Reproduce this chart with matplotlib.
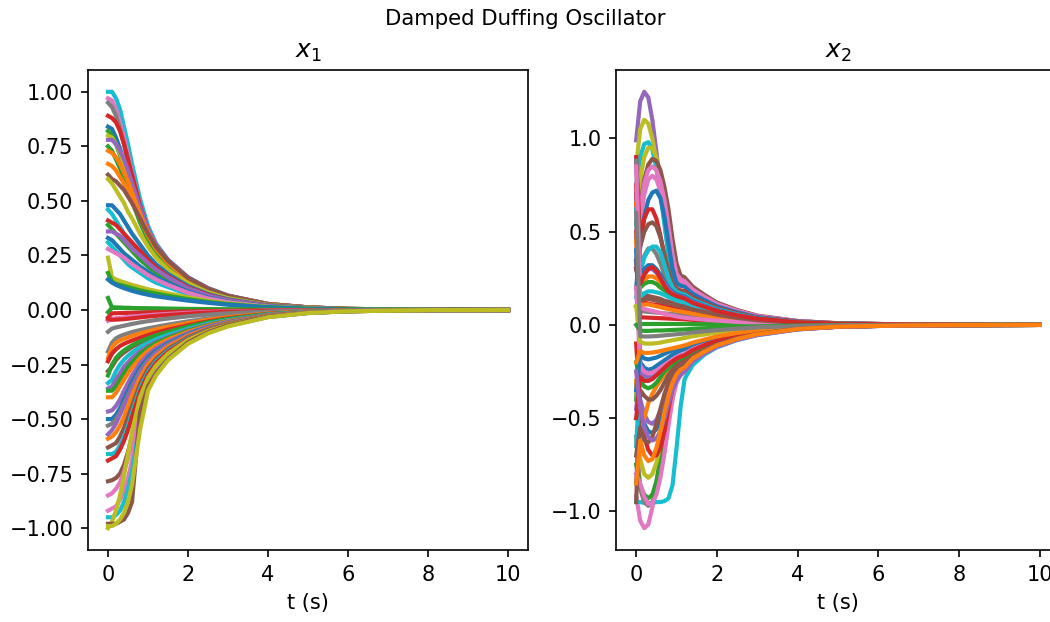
import matplotlib
matplotlib.use("Agg")
import matplotlib.pyplot as plt

# time grids (s)
t_x1 = [0, 0.1, 0.2, 0.3, 0.4, 0.5, 0.6, 0.8, 1.0, 1.2, 1.5, 2.0, 2.5, 3.0, 4.0, 5.0, 6.0, 8.0, 10.0]
t_x2 = [0, 0.1, 0.2, 0.3, 0.4, 0.5, 0.6, 0.7, 0.8, 0.9, 1.0, 1.1, 1.2, 1.4, 1.7, 2.0, 2.5, 3.0, 4.0, 5.0, 6.5, 8.0, 10.0]

# x1 trajectories
x1_curves = [
    [1.00,1.00,0.97,0.92,0.84,0.76,0.67,0.51,0.385,0.305,0.23,0.15,0.10,0.066,0.028,0.012,0.005,0.001,0.0],
    [0.97,0.96,0.92,0.86,0.79,0.71,0.63,0.48,0.37,0.295,0.225,0.146,0.097,0.064,0.027,0.012,0.005,0.001,0.0],
    [0.95,0.93,0.89,0.83,0.76,0.68,0.61,0.47,0.36,0.29,0.22,0.143,0.095,0.063,0.027,0.011,0.005,0.001,0.0],
    [0.89,0.88,0.86,0.82,0.76,0.69,0.62,0.48,0.37,0.295,0.225,0.146,0.097,0.064,0.027,0.012,0.005,0.001,0.0],
    [0.84,0.83,0.79,0.74,0.68,0.61,0.55,0.43,0.34,0.275,0.21,0.137,0.091,0.06,0.026,0.011,0.0045,0.001,0.0],
    [0.82,0.80,0.76,0.71,0.65,0.59,0.53,0.42,0.33,0.265,0.205,0.134,0.089,0.059,0.025,0.011,0.0045,0.001,0.0],
    [0.80,0.79,0.76,0.72,0.67,0.61,0.55,0.44,0.35,0.28,0.215,0.14,0.093,0.062,0.026,0.011,0.0045,0.001,0.0],
    [0.78,0.78,0.76,0.73,0.69,0.64,0.58,0.47,0.37,0.30,0.23,0.15,0.10,0.066,0.028,0.012,0.005,0.001,0.0],
    [0.75,0.73,0.69,0.65,0.60,0.55,0.50,0.40,0.32,0.26,0.20,0.13,0.087,0.058,0.025,0.01,0.004,0.001,0.0],
    [0.73,0.72,0.70,0.67,0.63,0.59,0.54,0.44,0.355,0.29,0.22,0.143,0.095,0.063,0.027,0.011,0.005,0.001,0.0],
    [0.67,0.66,0.64,0.61,0.58,0.54,0.50,0.42,0.34,0.28,0.215,0.14,0.093,0.062,0.026,0.011,0.0045,0.001,0.0],
    [0.62,0.60,0.59,0.57,0.55,0.52,0.49,0.42,0.35,0.29,0.225,0.147,0.098,0.065,0.027,0.012,0.005,0.001,0.0],
    [0.60,0.58,0.55,0.52,0.49,0.45,0.42,0.35,0.29,0.24,0.185,0.122,0.081,0.054,0.023,0.01,0.004,0.001,0.0],
    [0.48,0.48,0.46,0.44,0.41,0.38,0.35,0.30,0.25,0.21,0.165,0.11,0.073,0.049,0.021,0.009,0.004,0.001,0.0],
    [0.46,0.44,0.41,0.38,0.35,0.32,0.29,0.24,0.20,0.17,0.135,0.09,0.06,0.04,0.017,0.007,0.003,0.001,0.0],
    [0.41,0.40,0.39,0.37,0.35,0.33,0.31,0.27,0.23,0.195,0.155,0.104,0.07,0.046,0.02,0.008,0.0035,0.001,0.0],
    [0.39,0.37,0.35,0.33,0.31,0.29,0.27,0.23,0.20,0.17,0.14,0.094,0.063,0.042,0.018,0.008,0.003,0.001,0.0],
    [0.36,0.36,0.35,0.34,0.32,0.30,0.28,0.25,0.215,0.185,0.15,0.10,0.067,0.045,0.019,0.008,0.0035,0.001,0.0],
    [0.33,0.32,0.30,0.28,0.26,0.245,0.23,0.20,0.175,0.15,0.125,0.085,0.057,0.038,0.016,0.007,0.003,0.001,0.0],
    [0.31,0.29,0.27,0.25,0.23,0.21,0.195,0.17,0.145,0.125,0.105,0.072,0.049,0.033,0.014,0.006,0.0025,0.0005,0.0],
    [0.28,0.27,0.26,0.25,0.24,0.225,0.21,0.185,0.16,0.14,0.115,0.079,0.053,0.036,0.015,0.0065,0.0027,0.0005,0.0],
    [0.24,0.15,0.14,0.133,0.127,0.121,0.115,0.105,0.095,0.087,0.076,0.058,0.042,0.03,0.014,0.006,0.003,0.0005,0.0],
    [0.17,0.13,0.12,0.115,0.11,0.105,0.10,0.09,0.082,0.075,0.065,0.05,0.037,0.027,0.013,0.006,0.003,0.0005,0.0],
    [0.14,0.125,0.115,0.107,0.10,0.094,0.088,0.078,0.07,0.063,0.055,0.043,0.033,0.024,0.012,0.005,0.002,0.0005,0.0],
    [0.055,0.012,0.011,0.011,0.010,0.010,0.009,0.008,0.007,0.007,0.006,0.005,0.004,0.003,0.0015,0.0007,0.0003,0.0,0.0],
    [-0.01,0.01,0.01,0.01,0.009,0.009,0.009,0.008,0.007,0.006,0.005,0.004,0.003,0.002,0.001,0.0005,0.0002,0.0,0.0],
    [-0.035,-0.015,-0.015,-0.014,-0.014,-0.013,-0.013,-0.012,-0.011,-0.01,-0.009,-0.007,-0.005,-0.004,-0.002,-0.001,-0.0004,0.0,0.0],
    [-0.05,-0.04,-0.038,-0.036,-0.034,-0.032,-0.03,-0.027,-0.024,-0.021,-0.018,-0.013,-0.009,-0.007,-0.003,-0.0013,-0.0005,0.0,0.0],
    [-0.04,-0.045,-0.044,-0.043,-0.042,-0.04,-0.038,-0.034,-0.03,-0.027,-0.023,-0.017,-0.012,-0.009,-0.004,-0.0017,-0.0007,0.0,0.0],
    [-0.10,-0.085,-0.08,-0.076,-0.072,-0.068,-0.064,-0.057,-0.051,-0.046,-0.039,-0.029,-0.021,-0.015,-0.007,-0.003,-0.0013,-0.0002,0.0],
    [-0.19,-0.15,-0.13,-0.12,-0.113,-0.107,-0.101,-0.092,-0.084,-0.077,-0.067,-0.052,-0.039,-0.029,-0.014,-0.006,-0.003,-0.0005,0.0],
    [-0.22,-0.17,-0.15,-0.14,-0.132,-0.125,-0.119,-0.108,-0.098,-0.089,-0.077,-0.06,-0.045,-0.033,-0.016,-0.007,-0.003,-0.0005,0.0],
    [-0.235,-0.20,-0.18,-0.165,-0.155,-0.147,-0.14,-0.127,-0.115,-0.104,-0.09,-0.07,-0.052,-0.038,-0.018,-0.008,-0.0035,-0.0005,0.0],
    [-0.28,-0.26,-0.23,-0.21,-0.195,-0.182,-0.17,-0.151,-0.135,-0.121,-0.104,-0.079,-0.058,-0.043,-0.02,-0.009,-0.004,-0.0005,0.0],
    [-0.30,-0.25,-0.22,-0.20,-0.185,-0.173,-0.162,-0.144,-0.129,-0.116,-0.10,-0.076,-0.056,-0.041,-0.019,-0.0085,-0.0035,-0.0005,0.0],
    [-0.335,-0.32,-0.28,-0.25,-0.228,-0.21,-0.195,-0.17,-0.151,-0.134,-0.114,-0.086,-0.063,-0.046,-0.021,-0.009,-0.004,-0.0005,0.0],
    [-0.36,-0.35,-0.32,-0.29,-0.26,-0.24,-0.22,-0.19,-0.166,-0.147,-0.124,-0.092,-0.067,-0.049,-0.022,-0.0095,-0.004,-0.0005,0.0],
    [-0.37,-0.37,-0.35,-0.32,-0.29,-0.26,-0.24,-0.20,-0.173,-0.152,-0.128,-0.095,-0.069,-0.05,-0.023,-0.01,-0.004,-0.0005,0.0],
    [-0.40,-0.40,-0.38,-0.35,-0.32,-0.29,-0.265,-0.22,-0.187,-0.162,-0.135,-0.10,-0.072,-0.052,-0.024,-0.01,-0.004,-0.0005,0.0],
    [-0.465,-0.46,-0.44,-0.41,-0.37,-0.335,-0.30,-0.245,-0.205,-0.176,-0.146,-0.106,-0.076,-0.055,-0.025,-0.011,-0.0045,-0.0005,0.0],
    [-0.50,-0.50,-0.48,-0.45,-0.41,-0.37,-0.33,-0.265,-0.22,-0.187,-0.153,-0.11,-0.079,-0.057,-0.026,-0.011,-0.0045,-0.0005,0.0],
    [-0.53,-0.52,-0.50,-0.47,-0.43,-0.39,-0.35,-0.28,-0.23,-0.195,-0.158,-0.113,-0.081,-0.058,-0.026,-0.011,-0.0045,-0.0005,0.0],
    [-0.57,-0.55,-0.52,-0.48,-0.44,-0.40,-0.36,-0.29,-0.238,-0.20,-0.162,-0.116,-0.083,-0.06,-0.027,-0.0115,-0.005,-0.0005,0.0],
    [-0.59,-0.58,-0.56,-0.53,-0.49,-0.44,-0.39,-0.31,-0.25,-0.21,-0.168,-0.119,-0.085,-0.061,-0.027,-0.012,-0.005,-0.0005,0.0],
    [-0.63,-0.62,-0.61,-0.58,-0.54,-0.49,-0.44,-0.34,-0.27,-0.225,-0.178,-0.125,-0.088,-0.063,-0.028,-0.012,-0.005,-0.0005,0.0],
    [-0.66,-0.66,-0.65,-0.62,-0.58,-0.53,-0.47,-0.36,-0.285,-0.235,-0.186,-0.13,-0.091,-0.065,-0.029,-0.0125,-0.005,-0.0005,0.0],
    [-0.69,-0.68,-0.67,-0.64,-0.60,-0.55,-0.49,-0.375,-0.295,-0.243,-0.192,-0.133,-0.093,-0.066,-0.029,-0.0125,-0.005,-0.0005,0.0],
    [-0.785,-0.78,-0.77,-0.75,-0.71,-0.65,-0.58,-0.43,-0.325,-0.265,-0.205,-0.14,-0.098,-0.069,-0.03,-0.013,-0.0055,-0.0005,0.0],
    [-0.85,-0.84,-0.82,-0.79,-0.74,-0.68,-0.61,-0.45,-0.335,-0.27,-0.21,-0.143,-0.10,-0.07,-0.031,-0.013,-0.0055,-0.0005,0.0],
    [-0.92,-0.91,-0.90,-0.87,-0.83,-0.77,-0.69,-0.49,-0.35,-0.28,-0.215,-0.146,-0.102,-0.071,-0.031,-0.013,-0.0055,-0.0005,0.0],
    [-0.95,-0.95,-0.94,-0.92,-0.88,-0.82,-0.74,-0.52,-0.36,-0.29,-0.222,-0.15,-0.104,-0.073,-0.032,-0.014,-0.0055,-0.0005,0.0],
    [-1.00,-0.97,-0.92,-0.85,-0.76,-0.66,-0.56,-0.40,-0.31,-0.255,-0.20,-0.137,-0.096,-0.068,-0.03,-0.013,-0.0055,-0.0005,0.0],
    [-0.98,-0.98,-0.98,-0.97,-0.96,-0.93,-0.88,-0.47,-0.35,-0.29,-0.225,-0.148,-0.102,-0.07,-0.03,-0.013,-0.0055,-0.0005,0.0],
    [-0.99,-0.99,-0.98,-0.96,-0.93,-0.88,-0.80,-0.55,-0.37,-0.30,-0.23,-0.155,-0.107,-0.075,-0.033,-0.014,-0.006,-0.0005,0.0],
]
x1_colors = ["C9","C6","C7","C3","C0","C2","C8","C4","C2","C1","C1","C5","C8","C0","C9","C3","C2","C4","C0","C9",
             "C6","C8","C2","C0","C2","C2","C3","C6","C3","C7","C7","C1","C3","C5","C2","C9","C4","C2","C1","C4",
             "C0","C7","C4","C1","C5","C9","C3","C5","C6","C6","C9","C8","C5","C8"]

# x2 trajectories
x2_curves = [
    [0.99,1.20,1.25,1.22,1.10,0.93,0.74,0.55,0.38,0.27,0.235,0.22,0.215,0.175,0.138,0.105,0.07,0.044,0.019,0.008,0.0028,0.001,0.0],
    [0.85,1.05,1.10,1.08,1.00,0.88,0.74,0.58,0.43,0.31,0.245,0.23,0.225,0.183,0.144,0.109,0.073,0.046,0.02,0.0085,0.003,0.001,0.0],
    [0.75,0.90,0.97,0.98,0.94,0.84,0.70,0.54,0.38,0.26,0.225,0.215,0.21,0.172,0.136,0.104,0.069,0.044,0.019,0.008,0.0028,0.001,0.0],
    [0.55,0.78,0.90,0.95,0.95,0.90,0.80,0.65,0.48,0.33,0.25,0.235,0.23,0.186,0.147,0.111,0.074,0.046,0.02,0.0085,0.003,0.001,0.0],
    [0.45,0.64,0.78,0.86,0.89,0.88,0.83,0.74,0.62,0.46,0.33,0.265,0.255,0.205,0.16,0.12,0.08,0.05,0.021,0.009,0.003,0.001,0.0],
    [0.40,0.62,0.76,0.83,0.85,0.83,0.77,0.67,0.53,0.38,0.275,0.245,0.235,0.19,0.15,0.113,0.075,0.047,0.02,0.0085,0.003,0.001,0.0],
    [0.30,0.55,0.70,0.78,0.80,0.78,0.72,0.62,0.48,0.34,0.255,0.235,0.225,0.183,0.144,0.109,0.073,0.046,0.02,0.0085,0.003,0.001,0.0],
    [0.20,0.42,0.58,0.67,0.71,0.72,0.68,0.58,0.44,0.30,0.225,0.21,0.205,0.167,0.132,0.1,0.067,0.042,0.018,0.008,0.0027,0.001,0.0],
    [0.90,0.45,0.57,0.62,0.62,0.57,0.48,0.37,0.27,0.215,0.195,0.185,0.18,0.148,0.118,0.091,0.061,0.039,0.017,0.0072,0.0025,0.001,0.0],
    [0.35,0.42,0.50,0.54,0.55,0.53,0.47,0.38,0.29,0.225,0.195,0.18,0.175,0.144,0.115,0.089,0.06,0.038,0.016,0.007,0.0024,0.001,0.0],
    [0.88,0.30,0.37,0.41,0.41,0.38,0.33,0.27,0.22,0.19,0.172,0.165,0.16,0.133,0.107,0.083,0.056,0.036,0.015,0.0065,0.0022,0.0008,0.0],
    [0.15,0.28,0.36,0.40,0.42,0.42,0.39,0.32,0.25,0.20,0.178,0.168,0.162,0.135,0.108,0.084,0.057,0.036,0.015,0.0065,0.0022,0.0008,0.0],
    [0.55,0.25,0.30,0.32,0.32,0.30,0.27,0.23,0.20,0.178,0.165,0.158,0.152,0.127,0.102,0.08,0.054,0.035,0.015,0.0063,0.0021,0.0008,0.0],
    [0.70,0.22,0.27,0.30,0.30,0.28,0.25,0.22,0.19,0.17,0.158,0.15,0.145,0.121,0.098,0.076,0.052,0.033,0.014,0.006,0.002,0.0007,0.0],
    [0.65,0.20,0.24,0.26,0.26,0.25,0.23,0.20,0.18,0.16,0.148,0.138,0.13,0.11,0.09,0.07,0.048,0.031,0.013,0.0058,0.002,0.0007,0.0],
    [0.30,0.20,0.22,0.23,0.23,0.22,0.20,0.185,0.17,0.155,0.143,0.135,0.128,0.108,0.088,0.069,0.047,0.03,0.013,0.0057,0.002,0.0007,0.0],
    [0.33,0.17,0.16,0.155,0.15,0.145,0.14,0.13,0.125,0.118,0.11,0.105,0.10,0.086,0.071,0.056,0.039,0.025,0.011,0.005,0.0017,0.0006,0.0],
    [0.50,0.12,0.12,0.115,0.11,0.108,0.105,0.10,0.095,0.09,0.085,0.08,0.076,0.066,0.055,0.044,0.031,0.02,0.009,0.004,0.0014,0.0005,0.0],
    [0.62,0.15,0.17,0.18,0.18,0.175,0.17,0.16,0.15,0.14,0.132,0.125,0.12,0.102,0.084,0.066,0.045,0.029,0.0125,0.0055,0.0019,0.0007,0.0],
    [0.20,0.075,0.072,0.07,0.068,0.066,0.064,0.062,0.06,0.058,0.056,0.054,0.052,0.046,0.039,0.032,0.023,0.015,0.007,0.003,0.001,0.0004,0.0],
    [0.75,0.04,0.04,0.039,0.038,0.037,0.036,0.035,0.034,0.033,0.032,0.031,0.03,0.027,0.023,0.019,0.014,0.0095,0.0045,0.002,0.0007,0.0003,0.0],
    [-0.40,0.005,0.005,0.005,0.005,0.005,0.005,0.005,0.005,0.005,0.005,0.005,0.005,0.0045,0.004,0.0035,0.0025,0.0018,0.0009,0.0004,0.0001,0.0,0.0],
    [0.45,0.10,0.11,0.11,0.105,0.10,0.095,0.09,0.085,0.08,0.076,0.072,0.068,0.06,0.05,0.04,0.028,0.019,0.0085,0.004,0.0013,0.0005,0.0],
    [0.85,0.09,0.085,0.08,0.075,0.07,0.065,0.06,0.055,0.05,0.046,0.042,0.039,0.034,0.028,0.023,0.016,0.011,0.005,0.0023,0.0008,0.0003,0.0],
    [0.10,0.13,0.14,0.14,0.135,0.13,0.125,0.12,0.115,0.11,0.104,0.10,0.096,0.083,0.069,0.055,0.038,0.025,0.011,0.005,0.0017,0.0006,0.0],
    [0.30,0.22,0.27,0.30,0.31,0.29,0.25,0.21,0.18,0.165,0.155,0.148,0.142,0.118,0.096,0.075,0.051,0.033,0.014,0.006,0.002,0.0007,0.0],
    [-0.92,-1.05,-1.09,-1.07,-0.98,-0.85,-0.70,-0.56,-0.44,-0.35,-0.29,-0.26,-0.235,-0.185,-0.145,-0.112,-0.076,-0.051,-0.022,-0.0095,-0.0033,-0.001,0.0],
    [-0.95,-0.95,-0.955,-0.955,-0.955,-0.95,-0.95,-0.945,-0.93,-0.86,-0.66,-0.44,-0.29,-0.215,-0.158,-0.12,-0.081,-0.055,-0.024,-0.01,-0.0035,-0.001,0.0],
    [-0.60,-0.88,-0.95,-0.97,-0.95,-0.88,-0.76,-0.60,-0.45,-0.34,-0.28,-0.25,-0.235,-0.185,-0.145,-0.112,-0.076,-0.051,-0.022,-0.0095,-0.0033,-0.001,0.0],
    [-0.75,-0.86,-0.91,-0.93,-0.91,-0.84,-0.72,-0.57,-0.43,-0.33,-0.27,-0.245,-0.23,-0.182,-0.143,-0.11,-0.075,-0.05,-0.022,-0.0093,-0.0032,-0.001,0.0],
    [-0.80,-0.85,-0.92,-0.96,-0.96,-0.91,-0.82,-0.69,-0.54,-0.40,-0.31,-0.265,-0.245,-0.19,-0.148,-0.115,-0.078,-0.053,-0.023,-0.0098,-0.0034,-0.001,0.0],
    [-0.30,-0.72,-0.80,-0.82,-0.80,-0.74,-0.64,-0.51,-0.39,-0.31,-0.26,-0.235,-0.215,-0.172,-0.135,-0.105,-0.071,-0.048,-0.021,-0.009,-0.003,-0.001,0.0],
    [-0.10,-0.45,-0.60,-0.67,-0.70,-0.70,-0.66,-0.57,-0.45,-0.34,-0.27,-0.24,-0.228,-0.18,-0.142,-0.11,-0.075,-0.05,-0.022,-0.0093,-0.0032,-0.001,0.0],
    [-0.50,-0.45,-0.53,-0.57,-0.58,-0.56,-0.51,-0.43,-0.35,-0.29,-0.25,-0.23,-0.215,-0.172,-0.135,-0.105,-0.071,-0.048,-0.021,-0.009,-0.003,-0.001,0.0],
    [-0.85,-0.40,-0.48,-0.52,-0.53,-0.51,-0.46,-0.39,-0.32,-0.27,-0.24,-0.22,-0.208,-0.167,-0.131,-0.102,-0.069,-0.047,-0.02,-0.0088,-0.003,-0.001,0.0],
    [-0.30,-0.59,-0.50,-0.42,-0.37,-0.33,-0.30,-0.27,-0.25,-0.23,-0.215,-0.20,-0.19,-0.155,-0.122,-0.095,-0.065,-0.044,-0.019,-0.008,-0.0028,-0.001,0.0],
    [-0.95,-0.35,-0.38,-0.40,-0.40,-0.38,-0.35,-0.31,-0.27,-0.24,-0.215,-0.20,-0.19,-0.155,-0.122,-0.095,-0.065,-0.044,-0.019,-0.008,-0.0028,-0.001,0.0],
    [-0.20,-0.30,-0.33,-0.34,-0.33,-0.31,-0.28,-0.25,-0.23,-0.21,-0.19,-0.18,-0.17,-0.14,-0.111,-0.087,-0.06,-0.04,-0.018,-0.0075,-0.0026,-0.0008,0.0],
    [-0.65,-0.25,-0.29,-0.30,-0.29,-0.27,-0.25,-0.23,-0.21,-0.19,-0.175,-0.165,-0.16,-0.133,-0.106,-0.083,-0.057,-0.039,-0.017,-0.0072,-0.0025,-0.0008,0.0],
    [0.40,-0.20,-0.23,-0.24,-0.235,-0.22,-0.205,-0.19,-0.175,-0.16,-0.148,-0.138,-0.13,-0.11,-0.089,-0.07,-0.049,-0.033,-0.0145,-0.0062,-0.0021,-0.0007,0.0],
    [-0.45,-0.24,-0.27,-0.28,-0.28,-0.265,-0.25,-0.23,-0.21,-0.19,-0.175,-0.165,-0.16,-0.133,-0.106,-0.083,-0.057,-0.039,-0.017,-0.0072,-0.0025,-0.0008,0.0],
    [0.20,-0.22,-0.25,-0.26,-0.255,-0.245,-0.23,-0.215,-0.20,-0.185,-0.172,-0.163,-0.155,-0.129,-0.103,-0.081,-0.056,-0.038,-0.0165,-0.007,-0.0024,-0.0008,0.0],
    [0.10,-0.09,-0.10,-0.10,-0.10,-0.098,-0.095,-0.09,-0.086,-0.082,-0.078,-0.074,-0.07,-0.061,-0.051,-0.041,-0.029,-0.02,-0.009,-0.004,-0.0013,-0.0005,0.0],
    [-0.35,-0.16,-0.18,-0.185,-0.18,-0.175,-0.165,-0.155,-0.145,-0.137,-0.13,-0.125,-0.12,-0.102,-0.083,-0.066,-0.046,-0.031,-0.0137,-0.0059,-0.002,-0.0007,0.0],
    [-0.50,-0.28,-0.30,-0.30,-0.29,-0.27,-0.25,-0.23,-0.21,-0.195,-0.18,-0.17,-0.163,-0.135,-0.108,-0.084,-0.058,-0.039,-0.017,-0.0073,-0.0025,-0.0008,0.0],
    [-0.20,-0.14,-0.15,-0.15,-0.148,-0.145,-0.14,-0.135,-0.13,-0.125,-0.12,-0.115,-0.11,-0.095,-0.078,-0.062,-0.043,-0.029,-0.013,-0.0055,-0.0019,-0.0007,0.0],
    [0.0,-0.03,-0.032,-0.032,-0.031,-0.03,-0.03,-0.029,-0.028,-0.027,-0.026,-0.025,-0.024,-0.021,-0.018,-0.015,-0.011,-0.0075,-0.0035,-0.0016,-0.0005,-0.0002,0.0],
    [0.60,-0.06,-0.062,-0.062,-0.061,-0.06,-0.058,-0.056,-0.054,-0.052,-0.05,-0.048,-0.046,-0.04,-0.034,-0.028,-0.02,-0.013,-0.006,-0.0027,-0.0009,-0.0003,0.0],
    [-0.70,-0.55,-0.62,-0.63,-0.60,-0.53,-0.45,-0.37,-0.31,-0.27,-0.24,-0.225,-0.212,-0.17,-0.134,-0.104,-0.071,-0.048,-0.021,-0.009,-0.003,-0.001,0.0],
    [-0.25,-0.45,-0.55,-0.60,-0.62,-0.61,-0.57,-0.50,-0.42,-0.35,-0.30,-0.27,-0.25,-0.195,-0.152,-0.118,-0.08,-0.054,-0.024,-0.01,-0.0035,-0.001,0.0],
    [-0.85,-0.62,-0.70,-0.73,-0.72,-0.66,-0.57,-0.47,-0.38,-0.31,-0.265,-0.24,-0.228,-0.18,-0.142,-0.11,-0.075,-0.05,-0.022,-0.0093,-0.0032,-0.001,0.0],
]
x2_colors = ["C4","C8","C9","C8","C5","C6","C6","C0","C3","C5","C7","C9","C0","C4","C1","C2","C5","C3","C9","C7",
             "C3","C2","C1","C6","C5","C3",
             "C6","C9","C7","C2","C6","C8","C3","C0","C4","C1","C5","C2","C9","C0","C4","C6","C8","C0","C3","C1",
             "C2","C7","C5","C4","C1"]

title_text = "Damped Duffing Oscillator"
panel_titles = ["$x_1$", "$x_2$"]
x_label = "t (s)"

fig = plt.figure(figsize=(7.0, 622 / 150), dpi=150)
ax1 = fig.add_axes([88 / 1050, 72 / 622, 440 / 1050, 480 / 622])
ax2 = fig.add_axes([616 / 1050, 72 / 622, 444 / 1050, 480 / 622])

for vals, c in zip(x1_curves, x1_colors):
    ax1.plot(t_x1, vals, color=c, lw=2.0)
for vals, c in zip(x2_curves, x2_colors):
    ax2.plot(t_x2, vals, color=c, lw=2.0)

for ax, ttl in zip([ax1, ax2], panel_titles):
    ax.set_title(ttl)
    ax.set_xlabel(x_label)
    ax.set_xticks([0, 2, 4, 6, 8, 10])

ax1.set_yticks([-1.0, -0.75, -0.5, -0.25, 0.0, 0.25, 0.5, 0.75, 1.0])
ax1.set_yticklabels(["\u22121.00", "\u22120.75", "\u22120.50", "\u22120.25", "0.00", "0.25", "0.50", "0.75", "1.00"])
ax2.set_yticks([-1.0, -0.5, 0.0, 0.5, 1.0])

fig.suptitle(title_text, fontsize=10.2, y=0.985)
fig.savefig("out.png", dpi=150)
